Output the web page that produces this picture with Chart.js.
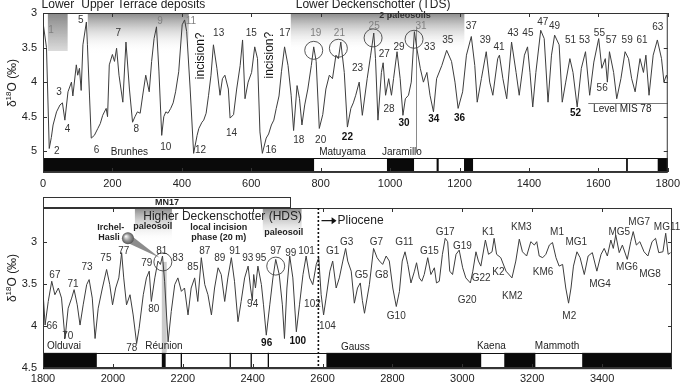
<!DOCTYPE html>
<html>
<head>
<meta charset="utf-8">
<script src="https://cdn.jsdelivr.net/npm/chart.js@4.4.1/dist/chart.umd.min.js"></script>
<style>
  html, body { margin: 0; padding: 0; background: #fff; }
  #wrap { position: relative; width: 685px; height: 384px; }
  canvas { position: absolute; left: 0; }
  #top { top: 0; }
  #bottom { top: 190px; }
</style>
</head>
<body>
<div id="wrap">
  <canvas id="top" width="685" height="190"></canvas>
  <canvas id="bottom" width="685" height="194"></canvas>
</div>
<script>
'use strict';

// ---- data: benthic d18O stack, age in ka, value in permil ----
const topAge = [
    0, 1, 10, 18, 24, 29, 39, 49, 56, 63,
    72, 82, 86, 96, 100, 105, 110, 115, 125, 128,
    134, 139, 148, 158, 165, 172, 182, 186, 191, 200,
    206, 212, 219, 230, 239, 249, 258, 265, 272, 280,
    287, 296, 306, 313, 320, 327, 334, 342, 348, 354,
    360, 368, 375, 382, 391, 401, 408, 414, 424, 434,
    444, 449, 458, 463, 470, 477, 484, 491, 501, 510,
    517, 524, 534, 539, 549, 558, 568, 575, 582, 591,
    601, 610, 618, 625, 632, 643, 650, 658, 665, 672,
    680, 687, 696, 706, 715, 722, 732, 739, 746, 754,
    763, 773, 780, 787, 796, 806, 815, 825, 834, 844,
    851, 858, 868, 877, 887, 894, 901, 911, 920, 934,
    944, 953, 958, 965, 975, 980, 987, 996, 1004, 1010,
    1020, 1029, 1037, 1044, 1053, 1061, 1070, 1077, 1087, 1096,
    1106, 1115, 1125, 1134, 1149, 1163, 1177, 1187, 1196, 1209,
    1220, 1234, 1244, 1251, 1263, 1277, 1287, 1296, 1310, 1315,
    1325, 1336, 1350, 1363, 1372, 1387, 1396, 1403, 1411, 1420,
    1434, 1444, 1455, 1465, 1474, 1487, 1496, 1506, 1518, 1527,
    1539, 1551, 1563, 1575, 1587, 1601, 1610, 1620, 1626, 1632,
    1644, 1653, 1665, 1677, 1687, 1696, 1706, 1720, 1730, 1737,
    1746, 1758, 1770, 1782, 1789, 1796, 1800
];
const topD18O = [
    3.20, 3.17, 3.50, 4.96, 4.80, 4.62, 4.43, 4.33, 4.30, 4.55,
    4.14, 4.00, 4.20, 3.75, 3.90, 3.80, 4.12, 3.46, 3.13, 3.46,
    4.20, 4.81, 4.77, 4.67, 4.60, 4.48, 4.38, 4.50, 3.75, 3.60,
    3.70, 3.51, 3.90, 4.29, 3.42, 4.10, 4.58, 4.50, 4.43, 4.45,
    4.20, 3.90, 4.14, 3.70, 3.37, 3.20, 3.84, 4.77, 4.50, 4.43,
    4.45, 4.38, 4.30, 4.14, 3.85, 3.17, 3.10, 3.27, 4.10, 5.03,
    4.77, 4.67, 4.58, 4.55, 4.45, 4.19, 3.90, 3.46, 3.80, 4.19,
    3.95, 3.90, 4.10, 4.52, 4.47, 4.10, 3.76, 3.39, 4.24, 4.00,
    3.86, 3.49, 3.66, 4.72, 5.03, 4.81, 4.75, 4.62, 4.55, 4.38,
    4.20, 3.85, 3.49, 3.76, 4.19, 4.70, 4.05, 4.24, 4.62, 4.33,
    4.10, 3.76, 3.49, 3.70, 4.67, 4.47, 4.10, 3.90, 3.95, 3.61,
    3.66, 3.42, 3.86, 4.65, 4.38, 4.30, 4.19, 4.00, 4.48, 3.95,
    3.61, 3.29, 3.66, 4.55, 3.86, 3.72, 4.19, 3.95, 4.19, 3.95,
    3.56, 3.95, 4.48, 4.24, 4.19, 4.00, 3.27, 3.51, 3.80, 4.00,
    3.86, 4.19, 4.43, 3.95, 3.76, 3.54, 3.70, 4.00, 4.38, 4.14,
    3.61, 3.34, 3.76, 4.29, 3.95, 3.56, 4.00, 4.19, 3.66, 3.61,
    3.95, 4.24, 3.42, 3.86, 4.19, 3.61, 3.49, 3.86, 4.36, 3.86,
    3.25, 3.37, 4.29, 3.61, 3.32, 3.46, 4.29, 4.00, 3.66, 3.86,
    4.36, 3.80, 3.56, 4.19, 3.71, 3.37, 3.80, 3.66, 4.00, 3.56,
    3.86, 4.24, 3.95, 3.56, 3.66, 3.95, 4.14, 3.66, 3.86, 3.61,
    4.19, 3.61, 3.39, 3.66, 4.00, 3.90, 3.95
];

const bottomAge = [
    1800, 1806, 1815, 1825, 1834, 1844, 1853, 1863, 1872, 1882,
    1889, 1898, 1906, 1915, 1925, 1932, 1941, 1949, 1958, 1970,
    1982, 1991, 1999, 2008, 2017, 2025, 2031, 2039, 2049, 2058,
    2068, 2075, 2087, 2096, 2104, 2110, 2120, 2129, 2136, 2142,
    2148, 2158, 2167, 2177, 2186, 2196, 2205, 2215, 2224, 2234,
    2243, 2253, 2263, 2272, 2282, 2291, 2301, 2310, 2320, 2329,
    2339, 2348, 2358, 2367, 2377, 2387, 2394, 2399, 2403, 2408,
    2415, 2425, 2431, 2439, 2449, 2458, 2466, 2476, 2485, 2491,
    2498, 2506, 2515, 2525, 2534, 2544, 2553, 2563, 2572, 2582,
    2589, 2596, 2603, 2610, 2621, 2629, 2639, 2648, 2658, 2666,
    2672, 2682, 2691, 2700, 2708, 2714, 2720, 2734, 2746, 2756,
    2763, 2772, 2782, 2791, 2801, 2811, 2820, 2828, 2836, 2844,
    2853, 2863, 2869, 2877, 2884, 2891, 2901, 2910, 2920, 2926,
    2934, 2943, 2951, 2958, 2964, 2972, 2982, 2991, 3001, 3010,
    3023, 3030, 3039, 3046, 3053, 3066, 3075, 3085, 3091, 3098,
    3110, 3125, 3142, 3153, 3163, 3172, 3184, 3196, 3206, 3213,
    3220, 3230, 3239, 3249, 3258, 3268, 3277, 3287, 3296, 3304,
    3311, 3318, 3328, 3337, 3349, 3360, 3372, 3385, 3397, 3406,
    3415, 3425, 3432, 3439, 3449, 3458, 3472, 3482, 3489, 3498,
    3508, 3520, 3531, 3543, 3553, 3562, 3574, 3582, 3589, 3596
];
const bottomD18O = [
    3.59, 3.99, 3.71, 3.47, 3.63, 3.55, 3.67, 4.15, 3.79, 3.67,
    3.57, 3.75, 3.99, 3.75, 3.51, 3.45, 3.67, 4.15, 3.79, 3.55,
    3.33, 3.51, 3.75, 3.55, 3.43, 3.13, 3.43, 3.75, 3.63, 3.87,
    4.21, 4.03, 3.63, 3.43, 3.35, 3.71, 3.43, 3.23, 3.27, 3.17,
    3.47, 4.19, 3.83, 3.51, 3.43, 3.59, 3.55, 3.87, 3.55, 3.43,
    3.71, 3.19, 3.51, 3.63, 3.87, 3.55, 3.31, 3.39, 3.71, 3.43,
    3.19, 3.47, 3.95, 3.71, 3.43, 3.29, 3.55, 3.70, 3.39, 3.55,
    3.29, 3.51, 3.75, 4.11, 3.75, 3.43, 3.21, 3.39, 3.75, 4.15,
    3.55, 3.17, 3.43, 4.07, 3.75, 3.39, 3.17, 3.43, 3.51, 3.27,
    3.19, 3.63, 3.87, 3.67, 3.35, 3.23, 3.55, 3.43, 3.23, 3.08,
    3.23, 3.35, 3.73, 3.55, 3.49, 3.70, 3.85, 3.51, 3.08, 3.19,
    3.23, 3.27, 3.17, 3.23, 3.55, 3.77, 3.59, 3.23, 3.12, 3.27,
    3.49, 3.35, 3.25, 3.43, 3.47, 3.39, 3.19, 3.39, 3.31, 3.49,
    3.47, 3.15, 2.96, 3.00, 3.35, 3.39, 3.15, 3.10, 3.31, 3.43,
    3.49, 3.35, 3.12, 3.23, 3.29, 2.98, 3.15, 3.12, 2.96, 3.15,
    3.19, 3.35, 3.43, 3.23, 2.97, 3.12, 3.17, 3.00, 3.04, 3.00,
    3.17, 3.19, 3.15, 3.04, 3.01, 3.19, 3.29, 3.27, 3.55, 3.73,
    3.55, 3.29, 3.12, 3.19, 3.39, 3.17, 3.13, 3.35, 3.15, 3.08,
    3.17, 2.98, 3.08, 2.92, 3.13, 3.04, 3.21, 3.00, 2.88, 3.04,
    3.00, 3.12, 3.17, 3.00, 2.96, 3.13, 3.12, 2.90, 3.15, 3.13
];

const topXTicks = [0, 200, 400, 600, 800, 1000, 1200, 1400, 1600, 1800];
const topYTicks = [3, 3.5, 4, 4.5, 5];
const bottomXTicks = [1800, 2000, 2200, 2400, 2600, 2800, 3000, 3200, 3400];
const bottomYTicks = [3, 3.5, 4, 4.5];

// normal-polarity intervals (black in the bar), ka
const topNormal = [[0, 781], [991, 1069], [1134, 1140], [1213, 1239], [1680, 1685], [1771, 1800]];
const bottomNormal = [[1800, 1954], [2140, 2151], [2194, 2196], [2334, 2336], [2394, 2396],
                      [2443, 2445], [2611, 3054], [3120, 3209], [3343, 3600]];

// ---- annotations (text, age, d18O, style) ----
const topStages = [
    ['1', 23, 3.25, 'g'], ['2', 40, 5.0], ['3', 46, 4.14], ['4', 71, 4.68], ['5', 109, 3.10],
    ['6', 154, 4.99], ['7', 217, 3.29], ['8', 269, 4.68], ['9', 337, 3.12, 'g'], ['10', 354, 4.94],
    ['11', 426, 3.12, 'g'], ['12', 454, 4.99], ['13', 506, 3.29], ['14', 543, 4.74], ['15', 600, 3.29],
    ['16', 657, 4.99], ['17', 697, 3.29], ['18', 737, 4.84], ['19', 786, 3.29, 'g'], ['20', 800, 4.84],
    ['21', 854, 3.29, 'g'], ['22', 877, 4.80, 'b'], ['23', 906, 3.80], ['25', 954, 3.19, 'g'],
    ['27', 983, 3.59], ['28', 997, 4.39], ['29', 1026, 3.49], ['30', 1040, 4.59, 'b'],
    ['31', 1089, 3.19, 'g'], ['33', 1114, 3.49], ['34', 1126, 4.54, 'b'], ['35', 1166, 3.39],
    ['36', 1200, 4.52, 'b'], ['37', 1234, 3.19], ['39', 1274, 3.39], ['41', 1314, 3.49],
    ['43', 1354, 3.29], ['45', 1397, 3.29], ['47', 1440, 3.14], ['49', 1474, 3.19],
    ['51', 1520, 3.39], ['52', 1534, 4.45, 'b'], ['53', 1560, 3.39], ['55', 1603, 3.29],
    ['56', 1611, 4.09], ['57', 1637, 3.39], ['59', 1683, 3.39], ['61', 1726, 3.39], ['63', 1771, 3.20]
];
const bottomStages = [
    ['67', 1834, 3.40], ['66', 1826, 4.0], ['71', 1886, 3.50], ['70', 1871, 4.12], ['73', 1926, 3.30],
    ['75', 1980, 3.20], ['77', 2031, 3.11], ['79', 2097, 3.26], ['81', 2140, 3.11], ['83', 2186, 3.20],
    ['80', 2117, 3.80], ['78', 2054, 4.27], ['85', 2229, 3.30], ['87', 2263, 3.11], ['89', 2306, 3.20],
    ['91', 2349, 3.11], ['93', 2386, 3.20], ['95', 2423, 3.20], ['97', 2466, 3.11], ['99', 2509, 3.14],
    ['101', 2554, 3.11], ['94', 2400, 3.74], ['102', 2571, 3.74], ['96', 2440, 4.21, 'b'],
    ['100', 2529, 4.18, 'b'], ['104', 2614, 4.0], ['G1', 2629, 3.11], ['G3', 2669, 3.01],
    ['G5', 2711, 3.40], ['G7', 2754, 3.01], ['G8', 2769, 3.40], ['G11', 2834, 3.01], ['G10', 2811, 3.89],
    ['G15', 2906, 3.11], ['G17', 2951, 2.89], ['G19', 3000, 3.06], ['G22', 3054, 3.44], ['G20', 3014, 3.70],
    ['K1', 3074, 2.89], ['K2', 3103, 3.36], ['KM3', 3169, 2.83], ['KM2', 3143, 3.65], ['M1', 3271, 2.89],
    ['KM6', 3231, 3.36], ['MG1', 3326, 3.01], ['M2', 3306, 3.89], ['MG4', 3394, 3.50], ['MG5', 3449, 2.89],
    ['MG7', 3506, 2.77], ['MG11', 3586, 2.83], ['MG6', 3471, 3.30], ['MG8', 3537, 3.39]
];

const FONT = '"Liberation Sans", Arial, Helvetica, sans-serif';

function text(ctx, s, x, y, o) {
    o = o || {};
    ctx.save();
    ctx.font = (o.bold ? 'bold ' : '') + (o.size || 10) + 'px ' + FONT;
    ctx.fillStyle = o.color || '#222';
    ctx.textAlign = o.align || 'center';
    ctx.textBaseline = 'middle';
    if (o.rot) { ctx.translate(x, y); ctx.rotate(o.rot); ctx.fillText(s, 0, 0); }
    else { ctx.fillText(s, x, y); }
    ctx.restore();
}

function yTitle(ctx, cx, cy) {
    ctx.save();
    ctx.translate(cx, cy);
    ctx.rotate(-Math.PI / 2);
    ctx.fillStyle = '#222';
    ctx.textBaseline = 'alphabetic';
    ctx.font = '12px ' + FONT; const w1 = ctx.measureText('δ').width;
    ctx.font = '8px ' + FONT;  const w2 = ctx.measureText('18').width;
    ctx.font = '12px ' + FONT; const w3 = ctx.measureText('O (‰)').width;
    let x = -(w1 + w2 + w3) / 2;
    ctx.font = '12px ' + FONT; ctx.fillText('δ', x, 4); x += w1;
    ctx.font = '8px ' + FONT;  ctx.fillText('18', x, -1); x += w2;
    ctx.font = '12px ' + FONT; ctx.fillText('O (‰)', x, 4);
    ctx.restore();
}

function gradBox(ctx, X, Y, b) {
    const x0 = X(b[0]), x1 = X(b[1]), y0 = Y(b[2]), y1 = Y(b[3]);
    const g = ctx.createLinearGradient(0, y0, 0, y1);
    g.addColorStop(0, 'rgba(130,130,130,0.95)');
    g.addColorStop(1, b[4] || 'rgba(255,255,255,0)');
    ctx.fillStyle = g;
    ctx.fillRect(x0, y0, x1 - x0, y1 - y0);
}

function polarity(ctx, X, Y, segs, v0, v1, a0, a1) {
    const y0 = Y(v0), y1 = Y(v1);
    ctx.fillStyle = '#fff';
    ctx.fillRect(X(a0), y0, X(a1) - X(a0), y1 - y0);
    ctx.fillStyle = '#0a0a0a';
    segs.forEach(([a, b]) => {
        const xa = X(a), xb = X(b);
        ctx.fillRect(xa, y0, Math.max(1.3, xb - xa), y1 - y0);
    });
    ctx.strokeStyle = '#111';
    ctx.lineWidth = 1;
    ctx.strokeRect(Math.round(X(a0)) + 0.5, Math.round(y0) + 0.5, X(a1) - X(a0) - 1, y1 - y0);
}

function frame(ctx, area, xs, ys, xt, yt) {
    ctx.save();
    ctx.strokeStyle = '#333';
    ctx.lineWidth = 1;
    ctx.strokeRect(area.left + 0.5, area.top + 0.5, area.right - area.left - 1, area.bottom - area.top - 1);
    ctx.beginPath();
    xt.forEach(v => {
        const x = Math.round(xs.getPixelForValue(v)) + 0.5;
        ctx.moveTo(x, area.top); ctx.lineTo(x, area.top + 4);
        ctx.moveTo(x, area.bottom); ctx.lineTo(x, area.bottom - 4);
    });
    yt.forEach(v => {
        const y = Math.round(ys.getPixelForValue(v)) + 0.5;
        if (y > area.bottom - 2) return;
        ctx.moveTo(area.left, y); ctx.lineTo(area.left + 4, y);
        ctx.moveTo(area.right, y); ctx.lineTo(area.right - 4, y);
    });
    ctx.stroke();
    ctx.restore();
}

function circle(ctx, x, y, r) {
    ctx.beginPath();
    ctx.arc(x, y, r, 0, Math.PI * 2);
    ctx.strokeStyle = '#444';
    ctx.lineWidth = 0.9;
    ctx.stroke();
}

function stages(ctx, X, Y, list) {
    list.forEach(([s, a, v, st]) => {
        text(ctx, s, X(a), Y(v), {
            size: 10,
            bold: st === 'b',
            color: st === 'g' ? '#808080' : (st === 'b' ? '#111' : '#333')
        });
    });
}

// draws everything that is not the curve itself
function paleoPlugin(cfg) {
    return {
        id: 'paleo',
        beforeDatasetsDraw(chart) {
            const ctx = chart.ctx, xs = chart.scales.x, ys = chart.scales.y;
            const X = v => xs.getPixelForValue(v), Y = v => ys.getPixelForValue(v);
            ctx.save();
            cfg.boxes.forEach(b => gradBox(ctx, X, Y, b));
            if (cfg.before) cfg.before(ctx, X, Y, chart.chartArea);
            ctx.restore();
        },
        afterDatasetsDraw(chart) {
            const ctx = chart.ctx, xs = chart.scales.x, ys = chart.scales.y, area = chart.chartArea;
            const X = v => xs.getPixelForValue(v), Y = v => ys.getPixelForValue(v);
            ctx.save();
            polarity(ctx, X, Y, cfg.normal, cfg.bar[0], cfg.bar[1], cfg.xMin, cfg.xMax);
            frame(ctx, area, xs, ys, cfg.xTicks, cfg.yTicks);
            cfg.circles.forEach(([a, v]) => circle(ctx, X(a), Y(v), 9));
            stages(ctx, X, Y, cfg.stages);
            cfg.notes.forEach(n => text(ctx, n[0], X(n[1]), Y(n[2]), n[3]));
            if (cfg.after) cfg.after(ctx, X, Y, area);
            yTitle(ctx, 12, cfg.titleY);
            ctx.restore();
        }
    };
}

function baseOptions(o) {
    return {
        responsive: false,
        animation: false,
        layout: { padding: o.padding },
        plugins: { legend: { display: false }, tooltip: { enabled: false } },
        elements: { point: { radius: 0 }, line: { borderWidth: 1, tension: 0 } },
        scales: {
            x: {
                type: 'linear', min: o.xMin, max: o.xMax,
                grid: { display: false, drawTicks: false }, border: { display: false },
                afterBuildTicks: s => { s.ticks = o.xTicks.map(v => ({ value: v })); },
                afterFit: s => { s.height = o.xAxisH; },
                ticks: { padding: o.xPad, color: '#222', autoSkip: false, maxRotation: 0,
                         font: { size: 11, family: FONT }, callback: v => String(v) }
            },
            y: {
                type: 'linear', reverse: true, min: o.yMin, max: o.yMax,
                grid: { display: false, drawTicks: false }, border: { display: false },
                afterBuildTicks: s => { s.ticks = o.yTicks.map(v => ({ value: v })); },
                afterFit: s => { s.width = 43; },
                ticks: { padding: 6, color: '#222', font: { size: 11, family: FONT },
                         callback: v => String(v) }
            }
        }
    };
}

function series(ages, vals) {
    return ages.map((a, i) => ({ x: a, y: vals[i] }));
}

// ---- upper panel: 0-1800 ka ----
const topCfg = {
    xMin: 0, xMax: 1800, xTicks: topXTicks, yTicks: topYTicks, titleY: 83,
    normal: topNormal, bar: [5.1, 5.3],
    boxes: [[14, 71, 3, 3.55, 'rgba(215,215,215,0.9)'], [129, 420, 3, 3.58], [714, 1214, 3, 3.55]],
    circles: [[780, 3.54], [851, 3.51], [951, 3.36], [1069, 3.38]],
    stages: topStages,
    notes: [
        ['Lower', 43, 2.884, { size: 12 }],
        ['Upper Terrace deposits', 289, 2.884, { size: 12 }],
        ['Lower Deckenschotter (TDS)', 951, 2.884, { size: 12 }],
        ['2 paleosoils', 1043, 3.04, { size: 9, bold: true, color: '#333' }],
        ['incision?', 454, 3.62, { size: 12, rot: -Math.PI / 2, color: '#111' }],
        ['incision?', 654, 3.61, { size: 12, rot: -Math.PI / 2, color: '#111' }],
        ['Level MIS 78', 1669, 4.39, { size: 10 }],
        ['Brunhes', 249, 5.01, { size: 10 }],
        ['Matuyama', 863, 5.01, { size: 10 }],
        ['Jaramillo', 1034, 5.01, { size: 10 }]
    ],
    before(ctx, X, Y) {
        // Jaramillo marker
        ctx.strokeStyle = '#8a8a8a'; ctx.lineWidth = 1;
        ctx.beginPath();
        ctx.moveTo(Math.round(X(1074)) + 0.5, Y(3.22)); ctx.lineTo(Math.round(X(1074)) + 0.5, Y(5.02));
        ctx.stroke();
        // level of MIS 78
        ctx.strokeStyle = '#777';
        ctx.beginPath();
        ctx.moveTo(X(1571), Math.round(Y(4.3)) + 0.5); ctx.lineTo(X(1800), Math.round(Y(4.3)) + 0.5);
        ctx.stroke();
    }
};

new Chart(document.getElementById('top').getContext('2d'), {
    type: 'line',
    data: { datasets: [{ data: series(topAge, topD18O), borderColor: '#3d3d3d', borderWidth: 1 }] },
    options: baseOptions({ xMin: 0, xMax: 1800, yMin: 3, yMax: 5.3, xTicks: topXTicks, yTicks: topYTicks,
                           padding: { left: 0, right: 12, top: 13, bottom: 0 }, xAxisH: 18, xPad: 5 }),
    plugins: [paleoPlugin(topCfg)]
});

// ---- lower panel: 1800-3600 ka ----
const bottomCfg = {
    xMin: 1800, xMax: 3600, xTicks: bottomXTicks, yTicks: bottomYTicks, titleY: 88,
    normal: bottomNormal, bar: [4.32, 4.5],
    boxes: [[2063, 2169, 2.6, 3.0], [2429, 2540, 2.6, 3.0]],
    circles: [[2143, 3.24], [2466, 3.29]],
    stages: bottomStages,
    notes: [
        ['Higher Deckenschotter (HDS)', 2314, 2.70, { size: 12 }],
        ['paleosoil', 2114, 2.82, { size: 9, bold: true }],
        ['paleosoil', 2489, 2.89, { size: 9, bold: true }],
        ['local incision', 2303, 2.83, { size: 9, bold: true }],
        ['phase (20 m)', 2303, 2.95, { size: 9, bold: true }],
        ['Irchel-', 1994, 2.83, { size: 9, bold: true }],
        ['Hasli', 1989, 2.95, { size: 9, bold: true }],
        ['Olduvai', 1860, 4.24, { size: 10 }],
        ['Réunion', 2146, 4.24, { size: 10 }],
        ['Gauss', 2694, 4.25, { size: 10 }],
        ['Kaena', 3083, 4.24, { size: 10 }],
        ['Mammoth', 3271, 4.24, { size: 10 }],
        ['Pliocene', 2643, 2.75, { size: 12, align: 'left' }]
    ],
    before(ctx, X, Y) {
        // Reunion band
        ctx.fillStyle = 'rgba(185,185,185,0.75)';
        ctx.fillRect(X(2140), Y(3.24), X(2154) - X(2140), Y(4.32) - Y(3.24));
    },
    after(ctx, X, Y, area) {
        // MN17 box above the panel
        const x0 = Math.round(X(1800)) + 0.5, x1 = Math.round(X(2506)) + 0.5;
        ctx.strokeStyle = '#333'; ctx.lineWidth = 1;
        ctx.strokeRect(x0, area.top - 10.5, x1 - x0, 10);
        text(ctx, 'MN17', (x0 + x1) / 2, area.top - 5, { size: 9, bold: true });
        // Plio-Pleistocene boundary
        ctx.save();
        ctx.setLineDash([2, 2]); ctx.lineWidth = 1.6; ctx.strokeStyle = '#111';
        ctx.beginPath();
        ctx.moveTo(X(2588), area.top); ctx.lineTo(X(2588), area.bottom);
        ctx.stroke();
        ctx.restore();
        // arrow to "Pliocene"
        const ay = Y(2.75);
        ctx.strokeStyle = '#111'; ctx.lineWidth = 1.2;
        ctx.beginPath(); ctx.moveTo(X(2597), ay); ctx.lineTo(X(2630), ay); ctx.stroke();
        ctx.fillStyle = '#111';
        ctx.beginPath(); ctx.moveTo(X(2640), ay); ctx.lineTo(X(2626), ay - 3.5); ctx.lineTo(X(2626), ay + 3.5);
        ctx.closePath(); ctx.fill();
        // Irchel-Hasli pointer
        const cx = X(2043), cy = Y(2.96), tx = X(2134), ty = Y(3.19), r = 6;
        const dx = tx - cx, dy = ty - cy, L = Math.hypot(dx, dy), nx = -dy / L, ny = dx / L;
        ctx.fillStyle = 'rgba(120,120,120,0.85)';
        ctx.beginPath();
        ctx.moveTo(cx + nx * r * 0.7, cy + ny * r * 0.7);
        ctx.lineTo(tx, ty);
        ctx.lineTo(cx - nx * r * 0.7, cy - ny * r * 0.7);
        ctx.closePath(); ctx.fill();
        const g = ctx.createRadialGradient(cx - 2, cy - 2, 0.5, cx, cy, r);
        g.addColorStop(0, '#f2f2f2'); g.addColorStop(0.5, '#9a9a9a'); g.addColorStop(1, '#555');
        ctx.fillStyle = g;
        ctx.beginPath(); ctx.arc(cx, cy, r, 0, Math.PI * 2); ctx.fill();
    }
};

new Chart(document.getElementById('bottom').getContext('2d'), {
    type: 'line',
    data: { datasets: [{ data: series(bottomAge, bottomD18O), borderColor: '#3d3d3d', borderWidth: 1 }] },
    options: baseOptions({ xMin: 1800, xMax: 3600, yMin: 2.6, yMax: 4.5, xTicks: bottomXTicks, yTicks: bottomYTicks,
                           padding: { left: 0, right: 13, top: 18, bottom: 0 }, xAxisH: 16, xPad: 4 }),
    plugins: [paleoPlugin(bottomCfg)]
});
</script>
</body>
</html>
